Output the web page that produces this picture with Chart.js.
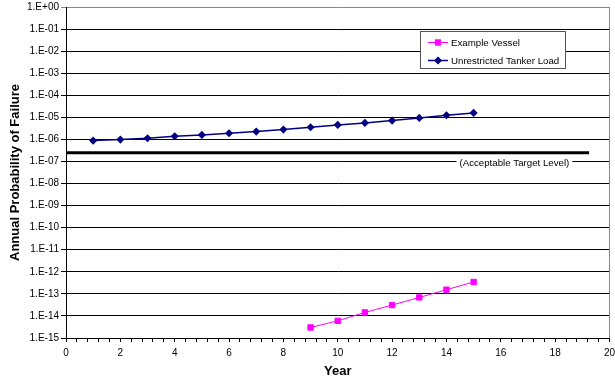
<!DOCTYPE html>
<html>
<head>
<meta charset="utf-8">
<style>
  html, body { margin: 0; padding: 0; background: #fff; }
  #wrap { width: 615px; height: 381px; }
</style>
<script src="https://cdn.jsdelivr.net/npm/chart.js@4.4.0/dist/chart.umd.min.js"></script>
</head>
<body>
<div id="wrap"><canvas id="chart" width="615" height="381"></canvas></div>
<script>
// data
const tankerYears = [1, 2, 3, 4, 5, 6, 7, 8, 9, 10, 11, 12, 13, 14, 15];
const tankerLoad = [8.8e-7, 9.8e-7, 1.12e-6, 1.38e-6, 1.6e-6, 1.89e-6, 2.26e-6, 2.78e-6,
                    3.54e-6, 4.55e-6, 5.6e-6, 7.1e-6, 9.4e-6, 1.24e-5, 1.59e-5];
const vesselYears = [9, 10, 11, 12, 13, 14, 15];
const exampleVessel = [3.0e-15, 6.0e-15, 1.44e-14, 3.1e-14, 6.9e-14, 1.54e-13, 3.45e-13];
const targetYears = [0, 19.25];
const targetLevel = [2.5e-7, 2.5e-7];

const yTicks = [1, 1e-1, 1e-2, 1e-3, 1e-4, 1e-5, 1e-6, 1e-7, 1e-8, 1e-9, 1e-10, 1e-11, 1e-12, 1e-13, 1e-14, 1e-15];
const yTickLabels = ['1.E+00', '1.E-01', '1.E-02', '1.E-03', '1.E-04', '1.E-05', '1.E-06', '1.E-07',
                     '1.E-08', '1.E-09', '1.E-10', '1.E-11', '1.E-12', '1.E-13', '1.E-14', '1.E-15'];
const xLabels = [0, 2, 4, 6, 8, 10, 12, 14, 16, 18, 20];
const xMinorStep = 0.4;

const FONT = "'Liberation Sans', Arial, sans-serif";

// legend box + target label, drawn on top of the plot
const overlay = {
  id: 'overlay',
  afterDatasetsDraw(chart) {
    const ctx = chart.ctx;
    const area = chart.chartArea;
    const x = chart.scales.x, y = chart.scales.y;
    ctx.save();

    // right border of plot area
    ctx.strokeStyle = '#888';
    ctx.lineWidth = 1;
    ctx.beginPath();
    ctx.moveTo(Math.round(area.right) - 0.5, area.top);
    ctx.lineTo(Math.round(area.right) - 0.5, area.bottom);
    ctx.stroke();

    // target label sitting on the 1E-07 gridline
    const ly = y.getPixelForValue(1e-7);
    const lx = x.getPixelForValue(16.5);
    ctx.font = '9.7px ' + FONT;
    const txt = '(Acceptable Target Level)';
    const tw = ctx.measureText(txt).width;
    ctx.fillStyle = '#fff';
    ctx.fillRect(lx - tw / 2 - 3, ly - 6, tw + 6, 12);
    ctx.fillStyle = '#000';
    ctx.textAlign = 'center';
    ctx.textBaseline = 'middle';
    ctx.fillText(txt, lx, ly + 2);

    // legend
    const bx = 420.5, by = 31.5, bw = 145, bh = 37;
    ctx.fillStyle = '#fff';
    ctx.fillRect(bx, by, bw, bh);
    ctx.strokeStyle = '#555';
    ctx.strokeRect(bx, by, bw, bh);
    const items = [chart.data.datasets[0], chart.data.datasets[1]];
    items.forEach((ds, i) => {
      const iy = by + 11 + i * 18;
      ctx.strokeStyle = ds.borderColor;
      ctx.lineWidth = ds.borderWidth;
      ctx.beginPath();
      ctx.moveTo(428, iy);
      ctx.lineTo(448, iy);
      ctx.stroke();
      ctx.fillStyle = ds.pointBackgroundColor;
      ctx.strokeStyle = ds.pointBorderColor;
      Chart.helpers.drawPoint(ctx, {
        pointStyle: ds.pointStyle, radius: ds.pointRadius, rotation: 0, borderWidth: 1
      }, 438, iy);
      ctx.fillStyle = '#000';
      ctx.font = '9.7px ' + FONT;
      ctx.textAlign = 'left';
      ctx.textBaseline = 'middle';
      ctx.fillText(ds.label, 451, iy + 0.5);
    });
    ctx.restore();
  }
};

new Chart(document.getElementById('chart'), {
  type: 'line',
  data: {
    datasets: [
      {
        label: 'Example Vessel',
        data: vesselYears.map((yr, i) => ({ x: yr, y: exampleVessel[i] })),
        borderColor: '#ff00ff',
        backgroundColor: '#ff00ff',
        pointBackgroundColor: '#ff00ff',
        pointBorderColor: '#ff00ff',
        borderWidth: 1,
        pointStyle: 'rect',
        pointRadius: 3.8
      },
      {
        label: 'Unrestricted Tanker Load',
        data: tankerYears.map((yr, i) => ({ x: yr, y: tankerLoad[i] })),
        borderColor: '#000080',
        backgroundColor: '#000080',
        pointBackgroundColor: '#000080',
        pointBorderColor: '#000080',
        borderWidth: 1.5,
        pointStyle: 'rectRot',
        pointRadius: 3
      },
      {
        label: 'Acceptable Target Level',
        data: targetYears.map((yr, i) => ({ x: yr, y: targetLevel[i] })),
        borderColor: '#000',
        borderWidth: 3,
        pointRadius: 0
      }
    ]
  },
  options: {
    responsive: false,
    animation: false,
    layout: { padding: { left: 0, top: 7, right: 1, bottom: 0 } },
    plugins: {
      legend: { display: false },
      tooltip: { enabled: false }
    },
    scales: {
      x: {
        type: 'linear',
        min: 0,
        max: 20,
        afterBuildTicks(scale) {
          const t = [];
          for (let k = 0; k <= 50; k++) t.push({ value: k * xMinorStep });
          scale.ticks = t;
        },
        afterFit(scale) {
          scale.height = 43;
          scale.paddingLeft = 0;
          scale.paddingRight = 0;
        },
        border: { color: '#000', width: 1 },
        grid: { drawOnChartArea: false, color: '#000', tickLength: 4 },
        ticks: {
          autoSkip: false,
          maxRotation: 0,
          padding: 5,
          color: '#000',
          font: { family: FONT, size: 10 },
          callback(v) {
            const hit = xLabels.find(l => Math.abs(l - v) < 1e-6);
            return hit === undefined ? '' : String(hit);
          }
        },
        title: {
          display: true,
          text: 'Year',
          color: '#000',
          font: { family: FONT, size: 13, weight: 'bold' },
          padding: { top: 0, bottom: 2 }
        }
      },
      y: {
        type: 'logarithmic',
        min: 1e-15,
        max: 1,
        afterBuildTicks(scale) {
          scale.ticks = yTicks.map(v => ({ value: v }));
        },
        afterFit(scale) {
          scale.width = 66;
          scale.paddingTop = 0;
          scale.paddingBottom = 0;
        },
        border: { color: '#000', width: 1 },
        grid: {
          color: ctx => (ctx.tick && ctx.tick.value === 1 ? '#888' : '#000'),
          tickLength: 5
        },
        ticks: {
          autoSkip: false,
          padding: 2,
          color: '#000',
          font: { family: FONT, size: 10 },
          callback(v) {
            const i = yTicks.findIndex(t => Math.abs(Math.log10(t) - Math.log10(v)) < 1e-6);
            return i < 0 ? '' : yTickLabels[i];
          }
        },
        title: {
          display: true,
          text: 'Annual Probability of Failure',
          color: '#000',
          font: { family: FONT, size: 13, weight: 'bold' },
          padding: { top: 8, bottom: 0 }
        }
      }
    }
  },
  plugins: [overlay]
});
</script>
</body>
</html>
